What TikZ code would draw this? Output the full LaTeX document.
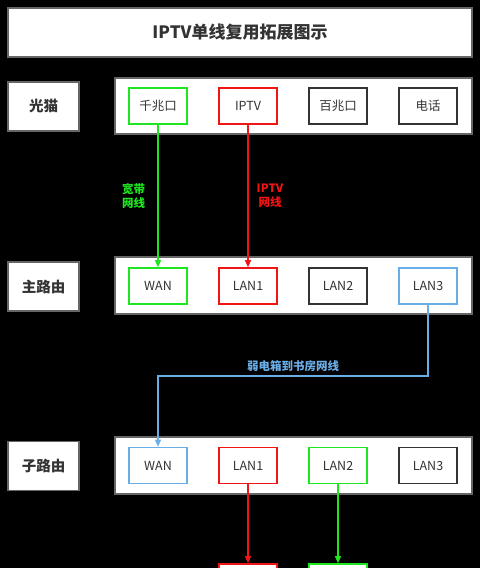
\documentclass[tikz,border=0pt]{standalone}
\usepackage{fontspec}
\setmainfont{Noto Sans CJK SC}
\usetikzlibrary{arrows.meta}
\definecolor{netgreen}{RGB}{30,230,30}
\definecolor{netred}{RGB}{240,20,20}
\definecolor{netblue}{RGB}{106,174,232}
\definecolor{boxgray}{RGB}{51,51,51}
\tikzset{frame/.style={draw=boxgray!75,fill=white,line width=1.2pt}}
\tikzset{tag/.style={frame,minimum width=71pt,minimum height=49pt,font=\fontsize{14.5}{15}\selectfont\bfseries,text=boxgray}}
\tikzset{panel/.style={frame,minimum width=357pt,minimum height=56pt}}
\tikzset{port/.style={draw=#1,fill=white,line width=1.6pt,minimum width=58pt,minimum height=36pt,font=\fontsize{12.5}{12.5}\selectfont,text=boxgray}}
\tikzset{wire/.style={draw=#1,line width=1.2pt,-{Triangle[length=7pt,width=6pt]}}}
\tikzset{wl/.style={text=#1,font=\fontsize{11.5}{14}\selectfont\bfseries,align=center}}
\begin{document}
\begin{tikzpicture}[x=1pt,y=-1pt]
        \fill[black] (0,0) rectangle (480,568);
        \useasboundingbox (0,0) rectangle (480,568);
        \node[frame,minimum width=464pt,minimum height=49pt,font=\fontsize{17}{17}\selectfont\bfseries,text=boxgray] (title) at (240,32.5) {IPTV单线复用拓展图示};
        % 光猫
        \node[tag] (modem) at (43.5,106.5) {光猫};
        \node[panel] (mp) at (293.5,106) {};
        \node[port=netgreen] (giga) at (158,106) {千兆口};
        \node[port=netred] (iptv) at (248,106) {IPTV};
        \node[port=boxgray] (fast) at (338,106) {百兆口};
        \node[port=boxgray] (phone) at (428,106) {电话};
        % 主路由
        \node[tag] (main) at (43.5,286.5) {主路由};
        \node[panel,minimum height=57pt] (rp) at (293.5,285.5) {};
        \node[port=netgreen] (wana) at (158,286) {WAN};
        \node[port=netred] (lan1a) at (248,286) {LAN1};
        \node[port=boxgray] (lan2a) at (338,286) {LAN2};
        \node[port=netblue] (lan3a) at (428,286) {LAN3};
        % 子路由
        \node[tag] (sub) at (43.5,466) {子路由};
        \node[panel,minimum height=57pt] (sp) at (293.5,465.5) {};
        \node[port=netblue] (wanb) at (158,465.5) {WAN};
        \node[port=netred] (lan1b) at (248,465.5) {LAN1};
        \node[port=netgreen] (lan2b) at (338,465.5) {LAN2};
        \node[port=boxgray] (lan3b) at (428,465.5) {LAN3};
        \node[port=netred] (tv) at (248,582) {};
        \node[port=netgreen] (pc) at (338,582) {};
        % wires
        \draw[wire=netgreen] (giga.south) -- (wana.north);
        \draw[wire=netred] (iptv.south) -- (lan1a.north);
        \node[wl=netgreen] (bbl) at (133.5,196) {宽带\\网线};
        \node[wl=netred] (ivl) at (270,196) {IPTV\\网线};
        \coordinate (bend) at (293,376);
        \draw[wire=netblue] (lan3a.south) |- (bend) -| (wanb.north);
        \node[wl=netblue] (cab) at (293,366) {弱电箱到书房网线};
        \draw[wire=netred] (lan1b.south) -- (tv.north);
        \draw[wire=netgreen] (lan2b.south) -- (pc.north);
      \end{tikzpicture}
\end{document}
